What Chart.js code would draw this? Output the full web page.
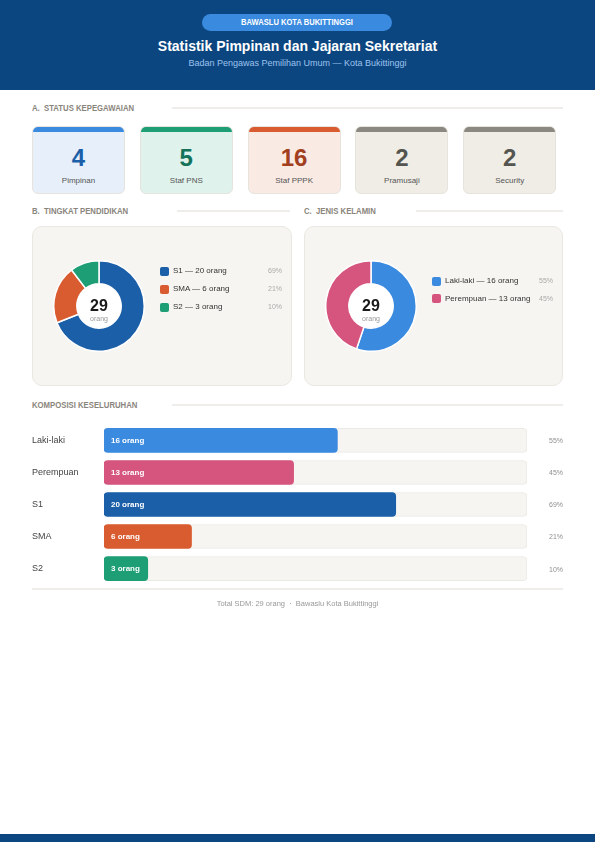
<!DOCTYPE html>
<html><head><meta charset="utf-8">
<script src="https://cdn.jsdelivr.net/npm/chart.js@4/dist/chart.umd.min.js"></script>
<style>
*{margin:0;padding:0;box-sizing:border-box}
body{width:595px;height:842px;position:relative;background:#fff;font-family:"Liberation Sans",Arial,sans-serif;overflow:hidden}
.abs{position:absolute}
#header{left:0;top:0;width:595px;height:90px;background:#0c4680}
#pill{left:202px;top:14px;width:190px;height:17px;border-radius:9px;background:#3a8ae0}
#pilltxt{left:202px;top:14px;width:190px;height:17px;color:#fff;font-size:8.5px;font-weight:bold;text-align:center;line-height:17px;transform:scaleX(0.89);transform-origin:center}
#title{left:0;top:38px;width:595px;text-align:center;color:#fff;font-size:14px;font-weight:bold}
#sub{left:0;top:58px;width:595px;text-align:center;color:#9cc3ee;font-size:9px}
.sec{font-size:9px;font-weight:bold;color:#8a857c;white-space:nowrap;line-height:10px;transform:scaleX(0.86);transform-origin:left center}
.rule{height:1.5px;background:#efede9}
.card{width:93px;height:68px;border-radius:6px;border:1px solid #e7e4de;overflow:hidden}
.card .bar{height:5px;width:100%}
.card .num{position:absolute;left:0;width:100%;top:17px;text-align:center;font-size:24px;font-weight:bold}
.card .lab{position:absolute;left:0;width:100%;top:49px;text-align:center;font-size:8px;color:#555}
.panel{background:#f7f5f1;border:1px solid #ebe8e2;border-radius:10px}
.ctr{text-align:center}
.ctr .big{font-size:16px;font-weight:bold;color:#1a1a1a;line-height:16px}
.ctr .small{font-size:7px;color:#999;line-height:9px}
.leg{font-size:8px;color:#333;white-space:nowrap;line-height:10px}
.leg .sw{position:absolute;width:9px;height:9px;border-radius:2px}
.leg .pct{position:absolute;color:#aaa;font-size:7px;text-align:right}
#footer{left:0;top:599px;width:595px;text-align:center;font-size:7.5px;color:#999}
#bottom{left:0;top:834px;width:595px;height:8px;background:#0c4680}
</style></head>
<body>
<div id="header" class="abs"></div>
<div id="pill" class="abs"></div>
<div id="pilltxt" class="abs">BAWASLU KOTA BUKITTINGGI</div>
<div id="title" class="abs">Statistik Pimpinan dan Jajaran Sekretariat</div>
<div id="sub" class="abs">Badan Pengawas Pemilihan Umum — Kota Bukittinggi</div>

<div class="abs sec" style="left:32px;top:103px">A.&nbsp; STATUS KEPEGAWAIAN</div>
<div class="abs rule" style="left:172px;top:107px;width:391px"></div>
<div id="cards"></div>

<div class="abs sec" style="left:32px;top:206px">B.&nbsp; TINGKAT PENDIDIKAN</div>
<div class="abs rule" style="left:177px;top:210px;width:113px"></div>
<div class="abs sec" style="left:304px;top:206px">C.&nbsp; JENIS KELAMIN</div>
<div class="abs rule" style="left:416px;top:210px;width:147px"></div>

<div class="abs panel" style="left:32px;top:226px;width:260px;height:160px"></div>
<div class="abs panel" style="left:304px;top:226px;width:259px;height:160px"></div>

<div class="abs" style="left:53px;top:260px;width:92px;height:92px"><canvas id="eduChart"></canvas></div>
<div class="abs" style="left:325px;top:260px;width:92px;height:92px"><canvas id="sexChart"></canvas></div>
<div class="abs ctr" style="left:69px;top:298px;width:60px"><div class="big">29</div><div class="small">orang</div></div>
<div class="abs ctr" style="left:341px;top:298px;width:60px"><div class="big">29</div><div class="small">orang</div></div>
<div id="eduLegend"></div>
<div id="sexLegend"></div>

<div class="abs sec" style="left:32px;top:400px">KOMPOSISI KESELURUHAN</div>
<div class="abs rule" style="left:172px;top:404px;width:391px"></div>
<div class="abs" style="left:32px;top:419px;width:531px;height:171px"><canvas id="barChart"></canvas></div>
<div class="abs rule" style="left:32px;top:588px;width:531px"></div>
<div id="footer" class="abs">Total SDM: 29 orang &nbsp;·&nbsp; Bawaslu Kota Bukittinggi</div>
<div id="bottom" class="abs"></div>

<script>
// ---- data ----
const statusLabels = ["Pimpinan", "Staf PNS", "Staf PPPK", "Pramusaji", "Security"];
const statusValues = [4, 5, 16, 2, 2];
const eduLabels = ["S1", "SMA", "S2"];
const eduValues = [20, 6, 3];
const sexLabels = ["Laki-laki", "Perempuan"];
const sexValues = [16, 13];
const compLabels = ["Laki-laki", "Perempuan", "S1", "SMA", "S2"];
const compValues = [16, 13, 20, 6, 3];
const totalSDM = 29;

// ---- styles ----
const cardStyles = [
  {top:"#3a8ae0", bg:"#e7f0fa", num:"#1b5fa8"},
  {top:"#1d9e74", bg:"#dff2eb", num:"#13735a"},
  {top:"#d95b30", bg:"#f9eae4", num:"#a23f1f"},
  {top:"#8a8880", bg:"#f0ede6", num:"#555550"},
  {top:"#8a8880", bg:"#f0ede6", num:"#555550"}
];
const eduColors = ["#1b5fa8", "#d95b30", "#1d9e74"];
const sexColors = ["#3a8ae0", "#d6557f"];
const compColors = ["#3a8ae0", "#d6557f", "#1b5fa8", "#d95b30", "#1d9e74"];
const pct = v => Math.round(v / totalSDM * 100) + "%";

// cards
const cardsEl = document.getElementById("cards");
statusLabels.forEach((l, i) => {
  const s = cardStyles[i];
  const d = document.createElement("div");
  d.className = "abs card";
  d.style.left = (32 + i * 107.8) + "px";
  d.style.top = "126px";
  d.style.background = s.bg;
  d.innerHTML = `<div class="bar" style="background:${s.top}"></div><div class="num" style="color:${s.num}">${statusValues[i]}</div><div class="lab">${l}</div>`;
  cardsEl.appendChild(d);
});

// legends
function legend(elId, labels, values, colors, x, y0, dy, pctRight) {
  const el = document.getElementById(elId);
  labels.forEach((l, i) => {
    const y = y0 + i * dy;
    el.insertAdjacentHTML("beforeend",
      `<div class="abs leg" style="left:${x}px;top:${y - 5}px;width:${pctRight - x}px;height:10px">
        <div class="sw" style="left:0;top:0.5px;background:${colors[i]}"></div>
        <span style="position:absolute;left:13px;top:0">${l} — ${values[i]} orang</span>
        <span class="pct" style="right:0;top:0">${pct(values[i])}</span></div>`);
  });
}
legend("eduLegend", eduLabels, eduValues, eduColors, 160, 271, 18, 282);
legend("sexLegend", sexLabels, sexValues, sexColors, 432, 281, 17.5, 553);

// doughnuts
const holePlugin = {
  id: "hole",
  beforeDatasetsDraw(chart) {
    const arc = chart.getDatasetMeta(0).data[0];
    if (!arc) return;
    const ctx = chart.ctx;
    ctx.save();
    ctx.fillStyle = "#ffffff";
    ctx.beginPath();
    ctx.arc(arc.x, arc.y, arc.innerRadius, 0, Math.PI * 2);
    ctx.fill();
    ctx.restore();
  }
};
function donut(id, labels, values, colors) {
  new Chart(document.getElementById(id), {
    type: "doughnut",
    data: { labels, datasets: [{ data: values, backgroundColor: colors, borderColor: "#ffffff", borderWidth: 1.5 }] },
    options: {
      responsive: true, maintainAspectRatio: false, animation: false, cutout: "49%",
      plugins: { legend: { display: false }, tooltip: { enabled: false } }
    },
    plugins: [holePlugin]
  });
}
donut("eduChart", eduLabels, eduValues, eduColors);
donut("sexChart", sexLabels, sexValues, sexColors);

// bar chart
const barText = {
  id: "barText",
  afterDatasetsDraw(chart) {
    const ctx = chart.ctx;
    const meta = chart.getDatasetMeta(0);
    ctx.save();
    ctx.textBaseline = "middle";
    meta.data.forEach((bar, i) => {
      ctx.font = "bold 8px 'Liberation Sans', Arial, sans-serif";
      ctx.fillStyle = "#ffffff";
      ctx.textAlign = "left";
      ctx.fillText(compValues[i] + " orang", bar.base + 7, bar.y + 0.5);
      ctx.font = "7px 'Liberation Sans', Arial, sans-serif";
      ctx.fillStyle = "#8f8f8f";
      ctx.textAlign = "right";
      ctx.fillText(pct(compValues[i]), chart.width, bar.y + 1);
    });
    ctx.restore();
  }
};
new Chart(document.getElementById("barChart"), {
  type: "bar",
  data: {
    labels: compLabels,
    datasets: [
      { data: compValues, backgroundColor: compColors, barThickness: 24, borderRadius: 4, borderSkipped: false, grouped: false, order: 0 },
      { data: compLabels.map(() => totalSDM), backgroundColor: "#f6f5f2", borderColor: "#ebe9e4", borderWidth: 1, barThickness: 24, borderRadius: 4, borderSkipped: false, grouped: false, order: 1 }
    ]
  },
  options: {
    indexAxis: "y", responsive: true, maintainAspectRatio: false, animation: false,
    layout: { padding: { left: 0, right: 36, top: 0, bottom: 0 } },
    scales: {
      x: { display: false, min: 0, max: totalSDM },
      y: {
        grid: { display: false }, border: { display: false },
        ticks: { color: "#444", font: { size: 9, family: "'Liberation Sans', Arial, sans-serif" }, crossAlign: "far", padding: 0 },
        afterFit(scale) { scale.width = 72; }
      }
    },
    plugins: { legend: { display: false }, tooltip: { enabled: false } }
  },
  plugins: [barText]
});
</script>
</body></html>
